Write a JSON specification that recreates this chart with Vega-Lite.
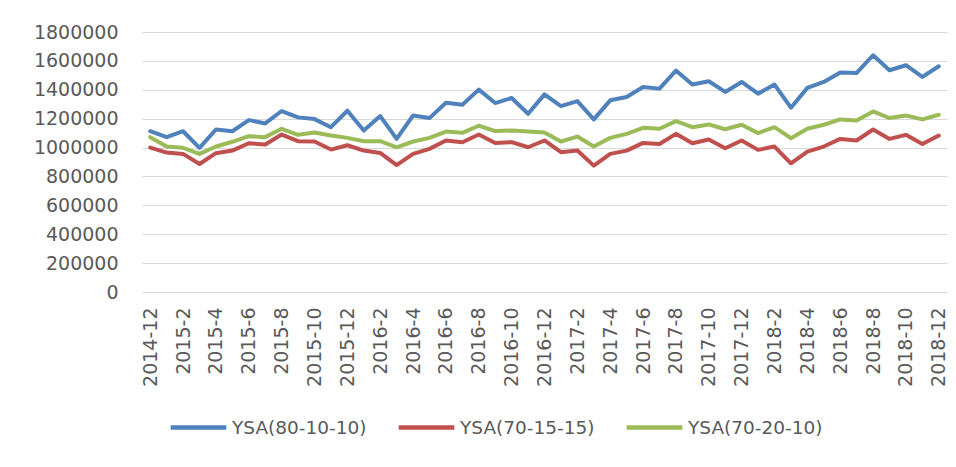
{
  "$schema": "https://vega.github.io/schema/vega-lite/v6.json",
  "width": 805,
  "height": 260,
  "autosize": {"type": "none"},
  "padding": {"left": 142, "top": 32, "right": 9, "bottom": 175},
  "background": "white",
  "config": {"view": {"stroke": null}, "font": "DejaVu Sans"},
  "data": {"values": [
    {"m": "2014-12", "YSA(80-10-10)": 1113000, "YSA(70-15-15)": 1000000, "YSA(70-20-10)": 1072000},
    {"m": "2015-1", "YSA(80-10-10)": 1072000, "YSA(70-15-15)": 965000, "YSA(70-20-10)": 1007000},
    {"m": "2015-2", "YSA(80-10-10)": 1113000, "YSA(70-15-15)": 956000, "YSA(70-20-10)": 998000},
    {"m": "2015-3", "YSA(80-10-10)": 998000, "YSA(70-15-15)": 886000, "YSA(70-20-10)": 956000},
    {"m": "2015-4", "YSA(80-10-10)": 1125000, "YSA(70-15-15)": 961000, "YSA(70-20-10)": 1007000},
    {"m": "2015-5", "YSA(80-10-10)": 1113000, "YSA(70-15-15)": 979000, "YSA(70-20-10)": 1040000},
    {"m": "2015-6", "YSA(80-10-10)": 1190000, "YSA(70-15-15)": 1030000, "YSA(70-20-10)": 1079000},
    {"m": "2015-7", "YSA(80-10-10)": 1167000, "YSA(70-15-15)": 1021000, "YSA(70-20-10)": 1072000},
    {"m": "2015-8", "YSA(80-10-10)": 1253000, "YSA(70-15-15)": 1090000, "YSA(70-20-10)": 1130000},
    {"m": "2015-9", "YSA(80-10-10)": 1209000, "YSA(70-15-15)": 1044000, "YSA(70-20-10)": 1088000},
    {"m": "2015-10", "YSA(80-10-10)": 1197000, "YSA(70-15-15)": 1042000, "YSA(70-20-10)": 1104000},
    {"m": "2015-11", "YSA(80-10-10)": 1141000, "YSA(70-15-15)": 986000, "YSA(70-20-10)": 1083000},
    {"m": "2015-12", "YSA(80-10-10)": 1255000, "YSA(70-15-15)": 1016000, "YSA(70-20-10)": 1067000},
    {"m": "2016-1", "YSA(80-10-10)": 1118000, "YSA(70-15-15)": 979000, "YSA(70-20-10)": 1044000},
    {"m": "2016-2", "YSA(80-10-10)": 1218000, "YSA(70-15-15)": 963000, "YSA(70-20-10)": 1044000},
    {"m": "2016-3", "YSA(80-10-10)": 1060000, "YSA(70-15-15)": 879000, "YSA(70-20-10)": 1002000},
    {"m": "2016-4", "YSA(80-10-10)": 1222000, "YSA(70-15-15)": 956000, "YSA(70-20-10)": 1042000},
    {"m": "2016-5", "YSA(80-10-10)": 1204000, "YSA(70-15-15)": 991000, "YSA(70-20-10)": 1067000},
    {"m": "2016-6", "YSA(80-10-10)": 1310000, "YSA(70-15-15)": 1049000, "YSA(70-20-10)": 1111000},
    {"m": "2016-7", "YSA(80-10-10)": 1297000, "YSA(70-15-15)": 1037000, "YSA(70-20-10)": 1102000},
    {"m": "2016-8", "YSA(80-10-10)": 1401000, "YSA(70-15-15)": 1090000, "YSA(70-20-10)": 1151000},
    {"m": "2016-9", "YSA(80-10-10)": 1308000, "YSA(70-15-15)": 1032000, "YSA(70-20-10)": 1114000},
    {"m": "2016-10", "YSA(80-10-10)": 1343000, "YSA(70-15-15)": 1037000, "YSA(70-20-10)": 1118000},
    {"m": "2016-11", "YSA(80-10-10)": 1234000, "YSA(70-15-15)": 1002000, "YSA(70-20-10)": 1111000},
    {"m": "2016-12", "YSA(80-10-10)": 1368000, "YSA(70-15-15)": 1049000, "YSA(70-20-10)": 1104000},
    {"m": "2017-1", "YSA(80-10-10)": 1287000, "YSA(70-15-15)": 968000, "YSA(70-20-10)": 1042000},
    {"m": "2017-2", "YSA(80-10-10)": 1322000, "YSA(70-15-15)": 979000, "YSA(70-20-10)": 1076000},
    {"m": "2017-3", "YSA(80-10-10)": 1195000, "YSA(70-15-15)": 875000, "YSA(70-20-10)": 1007000},
    {"m": "2017-4", "YSA(80-10-10)": 1327000, "YSA(70-15-15)": 956000, "YSA(70-20-10)": 1067000},
    {"m": "2017-5", "YSA(80-10-10)": 1350000, "YSA(70-15-15)": 979000, "YSA(70-20-10)": 1095000},
    {"m": "2017-6", "YSA(80-10-10)": 1419000, "YSA(70-15-15)": 1032000, "YSA(70-20-10)": 1137000},
    {"m": "2017-7", "YSA(80-10-10)": 1408000, "YSA(70-15-15)": 1025000, "YSA(70-20-10)": 1130000},
    {"m": "2017-8", "YSA(80-10-10)": 1533000, "YSA(70-15-15)": 1095000, "YSA(70-20-10)": 1183000},
    {"m": "2017-9", "YSA(80-10-10)": 1436000, "YSA(70-15-15)": 1030000, "YSA(70-20-10)": 1141000},
    {"m": "2017-10", "YSA(80-10-10)": 1459000, "YSA(70-15-15)": 1056000, "YSA(70-20-10)": 1160000},
    {"m": "2017-11", "YSA(80-10-10)": 1385000, "YSA(70-15-15)": 995000, "YSA(70-20-10)": 1127000},
    {"m": "2017-12", "YSA(80-10-10)": 1454000, "YSA(70-15-15)": 1049000, "YSA(70-20-10)": 1158000},
    {"m": "2018-1", "YSA(80-10-10)": 1373000, "YSA(70-15-15)": 984000, "YSA(70-20-10)": 1100000},
    {"m": "2018-2", "YSA(80-10-10)": 1436000, "YSA(70-15-15)": 1007000, "YSA(70-20-10)": 1141000},
    {"m": "2018-3", "YSA(80-10-10)": 1276000, "YSA(70-15-15)": 891000, "YSA(70-20-10)": 1065000},
    {"m": "2018-4", "YSA(80-10-10)": 1413000, "YSA(70-15-15)": 972000, "YSA(70-20-10)": 1130000},
    {"m": "2018-5", "YSA(80-10-10)": 1454000, "YSA(70-15-15)": 1007000, "YSA(70-20-10)": 1158000},
    {"m": "2018-6", "YSA(80-10-10)": 1519000, "YSA(70-15-15)": 1060000, "YSA(70-20-10)": 1195000},
    {"m": "2018-7", "YSA(80-10-10)": 1517000, "YSA(70-15-15)": 1049000, "YSA(70-20-10)": 1188000},
    {"m": "2018-8", "YSA(80-10-10)": 1639000, "YSA(70-15-15)": 1125000, "YSA(70-20-10)": 1250000},
    {"m": "2018-9", "YSA(80-10-10)": 1535000, "YSA(70-15-15)": 1060000, "YSA(70-20-10)": 1204000},
    {"m": "2018-10", "YSA(80-10-10)": 1570000, "YSA(70-15-15)": 1088000, "YSA(70-20-10)": 1222000},
    {"m": "2018-11", "YSA(80-10-10)": 1489000, "YSA(70-15-15)": 1025000, "YSA(70-20-10)": 1195000},
    {"m": "2018-12", "YSA(80-10-10)": 1563000, "YSA(70-15-15)": 1083000, "YSA(70-20-10)": 1227000}
  ]},
  "transform": [{"fold": ["YSA(80-10-10)", "YSA(70-15-15)", "YSA(70-20-10)"], "as": ["series", "value"]}],
  "mark": {"type": "line", "strokeWidth": 4, "strokeCap": "round", "strokeJoin": "round"},
  "encoding": {
    "x": {
      "field": "m", "type": "ordinal", "sort": null,
      "scale": {"type": "point", "padding": 0.5},
      "axis": {
        "title": null,
        "values": ["2014-12", "2015-2", "2015-4", "2015-6", "2015-8", "2015-10", "2015-12", "2016-2", "2016-4", "2016-6", "2016-8", "2016-10", "2016-12", "2017-2", "2017-4", "2017-6", "2017-8", "2017-10", "2017-12", "2018-2", "2018-4", "2018-6", "2018-8", "2018-10", "2018-12"],
        "labelAngle": -90, "labelFontSize": 19, "labelColor": "#595959",
        "ticks": false, "tickSize": 0, "domain": false, "grid": false, "labelPadding": 15
      }
    },
    "y": {
      "field": "value", "type": "quantitative",
      "scale": {"domain": [0, 1800000], "nice": false},
      "axis": {
        "title": null,
        "values": [0, 200000, 400000, 600000, 800000, 1000000, 1200000, 1400000, 1600000, 1800000],
        "format": "d", "labelFontSize": 19, "labelColor": "#595959",
        "grid": true, "gridColor": "#D9D9D9", "gridWidth": 1,
        "domain": false, "ticks": false, "tickSize": 0, "labelPadding": 24
      }
    },
    "color": {
      "field": "series", "type": "nominal",
      "scale": {"domain": ["YSA(80-10-10)", "YSA(70-15-15)", "YSA(70-20-10)"], "range": ["#4F81BD", "#C0504D", "#9BBB59"]},
      "legend": {
        "title": null, "orient": "none", "legendX": 26, "legendY": 365,
        "direction": "horizontal", "symbolType": "stroke", "symbolSize": 3100, "symbolStrokeWidth": 4.5,
        "labelFontSize": 18.5, "labelColor": "#595959", "labelOffset": 3, "columnPadding": 22, "labelLimit": 300
      }
    }
  }
}
